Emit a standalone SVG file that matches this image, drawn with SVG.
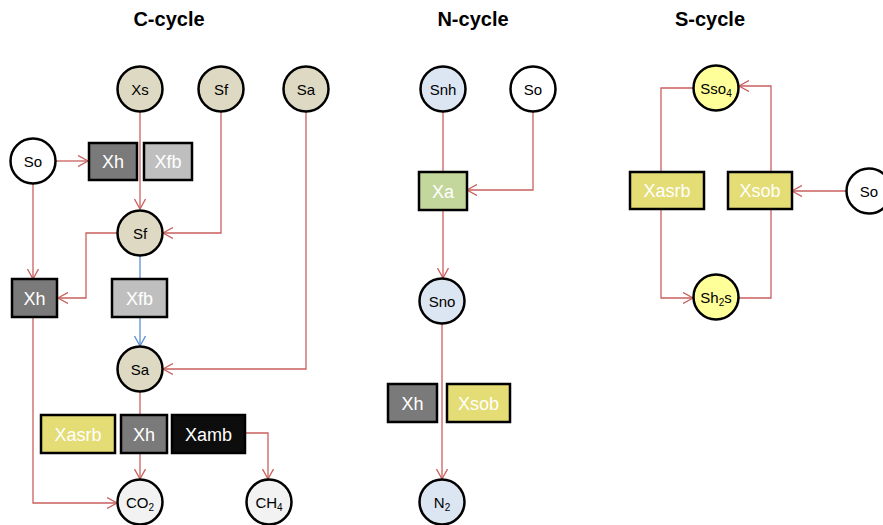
<svg xmlns="http://www.w3.org/2000/svg" width="883" height="525" viewBox="0 0 883 525">
  <style>
    .title { font-family: "Liberation Sans", Arial, sans-serif; font-weight: bold; font-size: 20px; fill: #000; text-anchor: middle; }
    .node circle { stroke: #000; stroke-width: 2.5; }
    .node rect { stroke: #000; stroke-width: 2.5; }
    .ctext { font-family: "Liberation Sans", Arial, sans-serif; font-size: 15px; fill: #000; text-anchor: middle; }
    .btext { font-family: "Liberation Sans", Arial, sans-serif; font-size: 18px; fill: #fff; text-anchor: middle; }
    .sub { font-size: 10px; }
    .beige { fill: #ddd9c3; }
    .white { fill: #fff; }
    .blue { fill: #dce6f2; }
    .lightgrey { fill: #f2f2f2; }
    .lemon { fill: #ffff99; }
    .dark { fill: #7a7a7a; }
    .grey { fill: #bfbfbf; }
    .yellow { fill: #e4dc74; }
    .black { fill: #0d0d0d; }
    .green { fill: #c3d69b; }
    .edge { fill: none; stroke: #c9605e; stroke-width: 1.3; }
    .edge-blue { fill: none; stroke: #5b8fd2; stroke-width: 1.3; }
  </style>
  <defs>
    <marker id="arr" viewBox="0 0 10 12" refX="10" refY="6" markerWidth="10" markerHeight="12" markerUnits="userSpaceOnUse" orient="auto">
      <path d="M0,0.5 L10,6 L0,11.5" fill="none" stroke="#c9605e" stroke-width="1.3"/>
    </marker>
    <marker id="arrb" viewBox="0 0 10 12" refX="10" refY="6" markerWidth="10" markerHeight="12" markerUnits="userSpaceOnUse" orient="auto">
      <path d="M0,0.5 L10,6 L0,11.5" fill="none" stroke="#5b8fd2" stroke-width="1.3"/>
    </marker>
  </defs>

  <rect width="883" height="525" fill="#fff"/>

  <!-- section titles -->
  <text class="title" x="169" y="26">C-cycle</text>
  <text class="title" x="473" y="26">N-cycle</text>
  <text class="title" x="710" y="26">S-cycle</text>

  <!-- connectors -->
  <g id="connectors">
    <!-- C-cycle -->
    <path class="edge" d="M56,161 L88,161" marker-end="url(#arr)"/>
    <path class="edge" d="M140,112 L140,209" marker-end="url(#arr)"/>
    <path class="edge" d="M221,112 L221,233 L163,233" marker-end="url(#arr)"/>
    <path class="edge" d="M117,233 L86,233 L86,298 L58,298" marker-end="url(#arr)"/>
    <path class="edge" d="M33,184 L33,279" marker-end="url(#arr)"/>
    <path class="edge-blue" d="M140,256 L140,279"/>
    <path class="edge-blue" d="M140,317 L140,346" marker-end="url(#arrb)"/>
    <path class="edge" d="M306,112 L306,369 L163,369" marker-end="url(#arr)"/>
    <path class="edge" d="M140,392 L140,415"/>
    <path class="edge" d="M140,453 L140,479" marker-end="url(#arr)"/>
    <path class="edge" d="M245,433 L268,433 L268,479" marker-end="url(#arr)"/>
    <path class="edge" d="M33,317 L33,503 L117,503" marker-end="url(#arr)"/>
    <!-- N-cycle -->
    <path class="edge" d="M443,112 L443,172"/>
    <path class="edge" d="M443,210 L443,278" marker-end="url(#arr)"/>
    <path class="edge" d="M533,112 L533,190 L467,190" marker-end="url(#arr)"/>
    <path class="edge" d="M442,324 L442,479" marker-end="url(#arr)"/>
    <!-- S-cycle -->
    <path class="edge" d="M693,88 L661,88 L661,172"/>
    <path class="edge" d="M661,209 L661,298 L693,298" marker-end="url(#arr)"/>
    <path class="edge" d="M739,298 L771,298 L771,209"/>
    <path class="edge" d="M771,172 L771,86 L739,86" marker-end="url(#arr)"/>
    <path class="edge" d="M846,191 L792,191" marker-end="url(#arr)"/>
  </g>

  <!-- C-cycle nodes -->
  <g id="c-xs" class="node"><circle class="beige" cx="140" cy="89" r="22.5"/><text class="ctext" x="140" y="94.5">Xs</text></g>
  <g id="c-sf-top" class="node"><circle class="beige" cx="221" cy="89" r="22.5"/><text class="ctext" x="221" y="94.5">Sf</text></g>
  <g id="c-sa-top" class="node"><circle class="beige" cx="306" cy="89" r="22.5"/><text class="ctext" x="306" y="94.5">Sa</text></g>
  <g id="c-so" class="node"><circle class="white" cx="33" cy="161" r="22.5"/><text class="ctext" x="33" y="166.5">So</text></g>
  <g id="c-xh-top" class="node"><rect class="dark" x="89" y="143" width="48" height="37"/><text class="btext" x="113" y="168">Xh</text></g>
  <g id="c-xfb-top" class="node"><rect class="grey" x="144" y="143" width="48" height="37"/><text class="btext" x="168" y="168">Xfb</text></g>
  <g id="c-sf" class="node"><circle class="beige" cx="140" cy="233" r="22.5"/><text class="ctext" x="140" y="238.5">Sf</text></g>
  <g id="c-xh-left" class="node"><rect class="dark" x="12" y="279" width="45" height="38"/><text class="btext" x="34.5" y="304.5">Xh</text></g>
  <g id="c-xfb" class="node"><rect class="grey" x="112" y="279" width="55" height="38"/><text class="btext" x="139.5" y="304.5">Xfb</text></g>
  <g id="c-sa" class="node"><circle class="beige" cx="140" cy="369" r="22.5"/><text class="ctext" x="140" y="374.5">Sa</text></g>
  <g id="c-xasrb" class="node"><rect class="yellow" x="41" y="415" width="74" height="38"/><text class="btext" x="78" y="440.5">Xasrb</text></g>
  <g id="c-xh" class="node"><rect class="dark" x="121" y="415" width="46" height="38"/><text class="btext" x="144" y="440.5">Xh</text></g>
  <g id="c-xamb" class="node"><rect class="black" x="172" y="415" width="73" height="38"/><text class="btext" x="208.5" y="440.5">Xamb</text></g>
  <g id="c-co2" class="node"><circle class="lightgrey" cx="140" cy="502" r="22.5"/><text class="ctext" x="140" y="507.5">CO<tspan class="sub" dy="3">2</tspan></text></g>
  <g id="c-ch4" class="node"><circle class="lightgrey" cx="269" cy="502" r="22.5"/><text class="ctext" x="269" y="507.5">CH<tspan class="sub" dy="3">4</tspan></text></g>

  <!-- N-cycle nodes -->
  <g id="n-snh" class="node"><circle class="blue" cx="443" cy="89" r="22.5"/><text class="ctext" x="443" y="94.5">Snh</text></g>
  <g id="n-so" class="node"><circle class="white" cx="533" cy="89" r="22.5"/><text class="ctext" x="533" y="94.5">So</text></g>
  <g id="n-xa" class="node"><rect class="green" x="419" y="172" width="48" height="38"/><text class="btext" x="443" y="197.5">Xa</text></g>
  <g id="n-sno" class="node"><circle class="blue" cx="442" cy="301" r="22.5"/><text class="ctext" x="442" y="306.5">Sno</text></g>
  <g id="n-xh" class="node"><rect class="dark" x="388" y="384" width="49" height="38"/><text class="btext" x="412.5" y="409.5">Xh</text></g>
  <g id="n-xsob" class="node"><rect class="yellow" x="447" y="384" width="63" height="38"/><text class="btext" x="478.5" y="409.5">Xsob</text></g>
  <g id="n-n2" class="node"><circle class="blue" cx="442" cy="502" r="22.5"/><text class="ctext" x="442" y="507.5">N<tspan class="sub" dy="3">2</tspan></text></g>

  <!-- S-cycle nodes -->
  <g id="s-sso4" class="node"><circle class="lemon" cx="716" cy="88" r="22.5"/><text class="ctext" x="716" y="93.5">Sso<tspan class="sub" dy="3">4</tspan></text></g>
  <g id="s-xasrb" class="node"><rect class="yellow" x="630" y="172" width="74" height="37"/><text class="btext" x="667" y="197">Xasrb</text></g>
  <g id="s-xsob" class="node"><rect class="yellow" x="728" y="172" width="64" height="37"/><text class="btext" x="760" y="197">Xsob</text></g>
  <g id="s-so" class="node"><circle class="white" cx="869" cy="191" r="22.5"/><text class="ctext" x="869" y="196.5">So</text></g>
  <g id="s-sh2s" class="node"><circle class="lemon" cx="716" cy="297" r="22.5"/><text class="ctext" x="716" y="302.5">Sh<tspan class="sub" dy="3">2</tspan><tspan dy="-3">s</tspan></text></g>
</svg>
